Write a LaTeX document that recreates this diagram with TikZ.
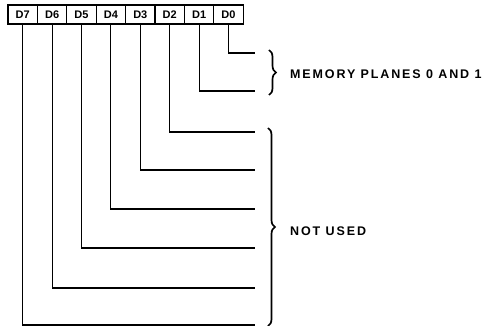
\documentclass[tikz,border=0pt]{standalone}
\usepackage{fontspec}
\setmainfont{Liberation Sans}
\newfontfamily\lblfont{Liberation Sans}[LetterSpace=15]
\usetikzlibrary{decorations.pathreplacing}
\begin{document}
\begin{tikzpicture}[x=1pt,y=-1pt,
  bitbox/.style={draw,line width=1.1pt,minimum width=29.4pt,minimum height=19pt,inner sep=0pt,font=\bfseries\fontsize{11}{12}\selectfont},
  wire/.style={line width=1.1pt},
  curly/.style={decorate,decoration={brace,amplitude=7pt},line width=1.7pt},
  lbl/.style={anchor=west,inner sep=0pt,font=\lblfont\bfseries\fontsize{12.5}{14}\selectfont}]
\useasboundingbox (0,0) rectangle (491,326);
\foreach \i/\n in {0/D7,1/D6,2/D5,3/D4,4/D3,5/D2,6/D1,7/D0}{
  \node[bitbox] (\n) at (22.7+29.4*\i,14.5) {\n};
}
\coordinate (e0) at (255,53);
\coordinate (e1) at (255,91);
\coordinate (e2) at (255,132);
\coordinate (e3) at (255,170);
\coordinate (e4) at (255,209);
\coordinate (e5) at (255,248);
\coordinate (e6) at (255,288);
\coordinate (e7) at (255,325);
\draw[wire] (D0.south) |- (e0);
\draw[wire] (D1.south) |- (e1);
\draw[wire] (D2.south) |- (e2);
\draw[wire] (D3.south) |- (e3);
\draw[wire] (D4.south) |- (e4);
\draw[wire] (D5.south) |- (e5);
\draw[wire] (D6.south) |- (e6);
\draw[wire] (D7.south) |- (e7);
\coordinate (b1a) at (269,50);
\coordinate (b1b) at (269,95);
\coordinate (b2a) at (268,128);
\coordinate (b2b) at (268,326);
\draw[curly] (b1a) -- (b1b);
\draw[curly] (b2a) -- (b2b);
\node[lbl] (mem) at (290,74) {MEMORY PLANES 0 AND 1};
\node[lbl] (nu) at (290,231) {NOT USED};
\end{tikzpicture}
\end{document}
